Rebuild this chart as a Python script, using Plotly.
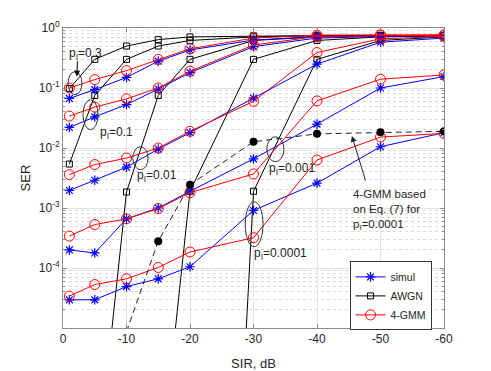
import plotly.graph_objects as go

# SIR grid (dB) used by every curve
sir = [-1, -5, -10, -15, -20, -30, -40, -50, -60]
p_labels = ["0.3", "0.1", "0.01", "0.001", "0.0001"]

# simulated SER, one list per p_I
simul_03 = [0.067, 0.094, 0.15, 0.28, 0.43, 0.63, 0.72, 0.74, 0.75]
simul_01 = [0.022, 0.033, 0.053, 0.096, 0.18, 0.49, 0.68, 0.72, 0.74]
simul_001 = [1.96e-3, 2.9e-3, 4.8e-3, 9.6e-3, 0.018, 0.068, 0.25, 0.58, 0.68]
simul_0001 = [2.0e-4, 1.78e-4, 6.6e-4, 1.0e-3, 1.9e-3, 6.6e-3, 0.025, 0.10, 0.155]
simul_00001 = [2.95e-5, 2.95e-5, 4.9e-5, 6.6e-5, 1.05e-4, 9.1e-4, 2.6e-3, 0.0105, 0.018]

# 4-GMM approximation
gmm_03 = [0.10, 0.138, 0.195, 0.30, 0.45, 0.68, 0.76, 0.77, 0.77]
gmm_01 = [0.034, 0.048, 0.066, 0.10, 0.19, 0.52, 0.72, 0.75, 0.76]
gmm_001 = [3.6e-3, 5.3e-3, 6.8e-3, 0.010, 0.019, 0.060, 0.39, 0.66, 0.72]
gmm_0001 = [3.4e-4, 5.3e-4, 6.6e-4, 9.8e-4, 1.8e-3, 3.7e-3, 0.061, 0.14, 0.165]
gmm_00001 = [3.4e-5, 5.3e-5, 6.6e-5, 1.02e-4, 1.85e-4, 3.2e-4, 6.3e-3, 0.0152, 0.0175]

# AWGN reference (points far below 1e-5 fall off the chart)
awgn_03 = [0.098, 0.30, 0.50, 0.64, 0.71, 0.74, 0.75, 0.75, 0.75]
awgn_01 = [5.4e-3, 0.075, 0.30, 0.50, 0.62, 0.71, 0.74, 0.75, 0.75]
awgn_001 = [5e-19, 2e-8, 1.85e-3, 0.075, 0.30, 0.62, 0.71, 0.74, 0.75]
awgn_0001 = [None, None, 1.5e-23, 2e-8, 1.9e-3, 0.30, 0.62, 0.71, 0.74]
awgn_00001 = [None, None, None, None, 1.5e-23, 1.9e-3, 0.30, 0.62, 0.71]

# 4-GMM based on Eq. (7), p_I = 0.0001
eq7_sir = [-10, -15, -20, -30, -40, -50, -60]
eq7_ser = [8.7e-6, 2.8e-4, 2.45e-3, 0.0127, 0.0172, 0.0183, 0.019]

simul = [simul_03, simul_01, simul_001, simul_0001, simul_00001]
gmm = [gmm_03, gmm_01, gmm_001, gmm_0001, gmm_00001]
awgn = [awgn_03, awgn_01, awgn_001, awgn_0001, awgn_00001]

BLUE, RED, BLACK = "#0000ff", "#ff0000", "#000000"
FONT = "Liberation Sans, Arial, sans-serif"

fig = go.Figure()

for i, ser in enumerate(awgn):
    fig.add_trace(go.Scatter(
        x=sir, y=ser, mode="lines+markers", name="AWGN",
        line=dict(color=BLACK, width=1),
        marker=dict(symbol="square-open", size=6, color=BLACK, line=dict(width=1)),
        legendgroup="awgn", showlegend=(i == 0), legendrank=2,
        connectgaps=False, hoverinfo="skip",
    ))

for i, ser in enumerate(simul):
    fig.add_trace(go.Scatter(
        x=sir, y=ser, mode="lines+markers", name="simul",
        line=dict(color=BLUE, width=1),
        marker=dict(symbol="asterisk-open", size=8, color=BLUE, line=dict(width=1.2, color=BLUE)),
        legendgroup="simul", showlegend=(i == 0), legendrank=1, hoverinfo="skip",
    ))

for i, ser in enumerate(gmm):
    fig.add_trace(go.Scatter(
        x=sir, y=ser, mode="lines+markers", name="4-GMM",
        line=dict(color=RED, width=1),
        marker=dict(symbol="circle-open", size=10, color=RED, line=dict(width=1)),
        legendgroup="gmm", showlegend=(i == 0), legendrank=3, hoverinfo="skip",
    ))

fig.add_trace(go.Scatter(
    x=eq7_sir, y=eq7_ser, mode="lines+markers",
    line=dict(color="#222222", width=1, dash="6px,4px"),
    marker=dict(symbol="circle", size=[0] + [8] * (len(eq7_ser) - 1), color=BLACK,
                opacity=1, line=dict(width=0)),
    showlegend=False, hoverinfo="skip",
))

# ellipses marking the curve groups (x0, x1, y0, y1)
ellipses = [
    (-0.79, -2.99, 0.0773, 0.187),
    (-3.15, -5.51, 0.0202, 0.0638),
    (-11.0, -13.4, 0.00435, 0.0105),
    (-32.1, -34.8, 0.00591, 0.0154),
    (-28.7, -31.5, 0.000226, 0.00127),
]
for x0, x1, y0, y1 in ellipses:
    fig.add_shape(type="circle", xref="x", yref="y", x0=x0, x1=x1, y0=y0, y1=y1,
                  line=dict(color="#333333", width=1))

# p_I labels (x in dB, y as log10)
label_pos = [(-3.6, -0.43), (-8.5, -1.75), (-14.8, -2.46), (-36.1, -2.35), (-34.2, -3.76)]
for (lx, ly), p in zip(label_pos, p_labels):
    fig.add_annotation(x=lx, y=ly, xref="x", yref="y", text=f"p<sub>I</sub>={p}",
                       showarrow=False, font=dict(size=12, color="#262626", family=FONT))

# arrow for p_I=0.3
fig.add_annotation(x=-2.2, y=-0.81, xref="x", yref="y", text="", showarrow=True,
                   ax=0.5, ay=-17, arrowhead=2, arrowsize=1.2, arrowwidth=1,
                   arrowcolor=BLACK, standoff=0)

# Eq. (7) description
fig.add_annotation(x=-45.4, y=-2.63, xref="x", yref="y", xanchor="left", yanchor="top",
                   text="4-GMM based<br>on Eq. (7) for<br>p<sub>I</sub>=0.0001",
                   align="left", showarrow=False,
                   font=dict(size=11.5, color="#262626", family=FONT))
fig.add_annotation(x=-45.5, y=-1.80, xref="x", yref="y", text="", showarrow=True,
                   ax=14, ay=46, arrowhead=2, arrowsize=1.2, arrowwidth=1,
                   arrowcolor="#222222", standoff=0)

major_y = [1e-4, 1e-3, 1e-2, 1e-1, 1]
minor_y = [m * 10.0 ** e for e in range(-5, 0) for m in range(2, 10)]
axis_col = "#8c8c8c"
tick_font = dict(size=12, color="#262626", family=FONT)

fig.update_xaxes(
    range=[0, -60], tickvals=[0, -10, -20, -30, -40, -50, -60],
    ticktext=["0", "-10", "-20", "-30", "-40", "-50", "-60"],
    title=dict(text="SIR, dB", font=dict(size=13, color="#262626", family=FONT), standoff=13),
    showline=True, linecolor=axis_col, linewidth=1, mirror="ticks",
    ticks="inside", ticklen=4, tickcolor=axis_col,
    showgrid=True, gridcolor="#e3e3e3", gridwidth=1, zeroline=False,
    tickfont=tick_font, automargin=False,
)
fig.update_yaxes(
    type="log", range=[-5, 0], tickvals=major_y,
    ticktext=["10<sup>-4</sup>", "10<sup>-3</sup>", "10<sup>-2</sup>", "10<sup>-1</sup>", "10<sup>0</sup>"],
    title=dict(text="SER", font=dict(size=13, color="#262626", family=FONT), standoff=5),
    showline=True, linecolor=axis_col, linewidth=1, mirror="ticks",
    ticks="inside", ticklen=4, tickcolor=axis_col,
    showgrid=True, gridcolor="#e3e3e3", gridwidth=1, zeroline=False,
    minor=dict(tickvals=minor_y, showgrid=True, gridcolor="#d9d9d9", griddash="dot",
               ticks="inside", ticklen=2, tickcolor=axis_col),
    tickfont=tick_font, automargin=False,
)

# the page body adds an 8px offset, so the margins are shifted to compensate
fig.update_layout(
    width=491, height=371,
    margin=dict(l=55, r=55, t=20, b=51),
    plot_bgcolor="#ffffff", paper_bgcolor="#ffffff",
    font=dict(family=FONT, color="#262626"),
    legend=dict(x=0.752, y=0.222, xanchor="left", yanchor="top",
                bgcolor="#ffffff", bordercolor="#333333", borderwidth=1,
                font=dict(size=10.5, color="#262626", family=FONT),
                tracegroupgap=0, itemwidth=30),
)

fig.write_html("out.html")
